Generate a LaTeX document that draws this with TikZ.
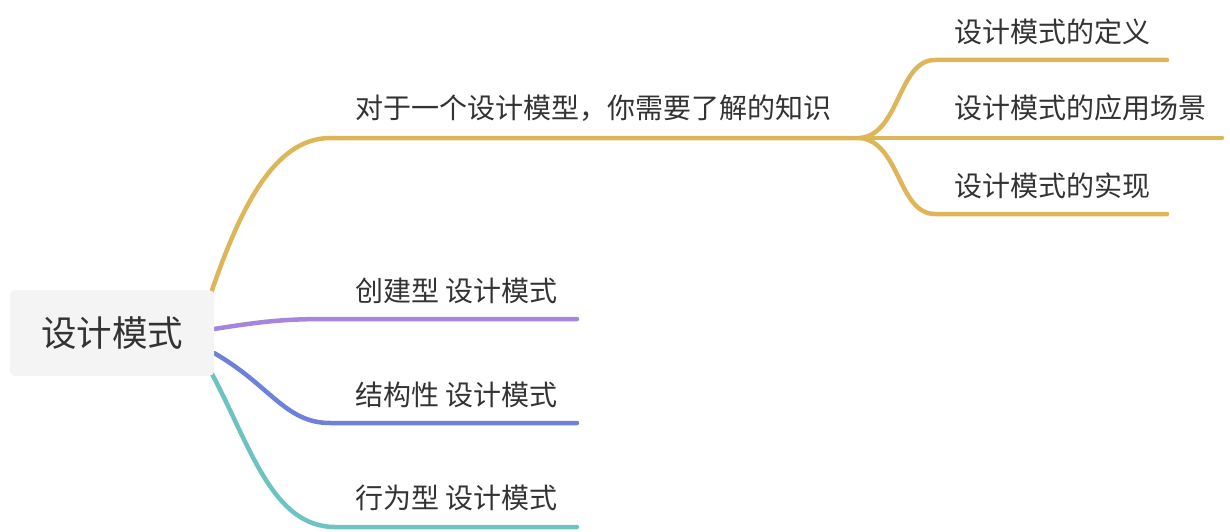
\documentclass[tikz,border=0pt]{standalone}
\usepackage{fontspec}
\setmainfont{Noto Sans CJK SC}
\begin{document}
\begin{tikzpicture}[x=1pt,y=-1pt,
  lbl/.style={anchor=west,inner sep=0pt,text=txt,font=\fontsize{28}{33}\selectfont},
  br/.style={line width=4.5pt,line cap=round},
  rootbox/.style={fill=boxfill,rounded corners=5pt,minimum width=204pt,minimum height=86pt,inner sep=0pt,text=txt,font=\fontsize{35.5}{42}\selectfont}]
\definecolor{txt}{HTML}{333333}
\definecolor{boxfill}{HTML}{F4F4F4}
\definecolor{cy}{HTML}{DDB65A}
\definecolor{cp}{HTML}{A685DD}
\definecolor{cb}{HTML}{6F80DA}
\definecolor{ct}{HTML}{6CC3BF}
\useasboundingbox (0,0) rectangle (1230,532);
% coordinates
\coordinate (ys) at (211,293);
\coordinate (yh) at (330,138);
\coordinate (fk) at (860,138);
\coordinate (s1a) at (935,60);
\coordinate (s1b) at (1167,60);
\coordinate (s2b) at (1222,138);
\coordinate (s3a) at (935,214);
\coordinate (s3b) at (1167,214);
\coordinate (ps) at (214,329);
\coordinate (ph) at (330,319);
\coordinate (pe) at (577,319);
\coordinate (bs) at (214,353);
\coordinate (bh) at (330,423);
\coordinate (be) at (577,423);
\coordinate (ts) at (212,374);
\coordinate (th) at (335,527);
\coordinate (te) at (577,527);
% connectors
\draw[br,cy] (ys) .. controls (238,215) and (272,138) .. (yh) -- (fk);
\draw[br,cy] (fk) .. controls (900,134) and (898,60) .. (s1a) -- (s1b);
\draw[br,cy] (fk) -- (s2b);
\draw[br,cy] (fk) .. controls (900,142) and (898,214) .. (s3a) -- (s3b);
\draw[br,cp] (ps) .. controls (265,321) and (285,319) .. (ph) -- (pe);
\draw[br,cb] (bs) .. controls (270,385) and (285,423) .. (bh) -- (be);
\draw[br,ct] (ts) .. controls (250,445) and (272,527) .. (th) -- (te);
% root
\node[rootbox] (root) at (112,333) {设计模式};
% labels
\node[lbl] (k) at (355,108) {对于一个设计模型，你需要了解的知识};
\node[lbl] (d1) at (954,32) {设计模式的定义};
\node[lbl] (d2) at (954,108) {设计模式的应用场景};
\node[lbl] (d3) at (954,186) {设计模式的实现};
\node[lbl] (c1) at (355,291) {创建型 设计模式};
\node[lbl] (c2) at (355,395) {结构性 设计模式};
\node[lbl] (c3) at (355,498) {行为型 设计模式};
\end{tikzpicture}
\end{document}
